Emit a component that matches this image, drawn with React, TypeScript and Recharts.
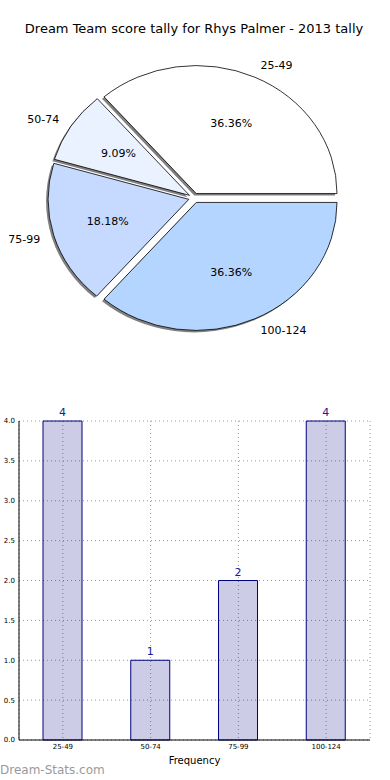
import { PieChart, Pie, Cell, BarChart, Bar, XAxis, YAxis, CartesianGrid, LabelList } from 'recharts';

const ranges = ['25-49', '50-74', '75-99', '100-124'];
const counts = [4, 1, 2, 4];
const sliceColors = ['#ffffff', '#eaf1ff', '#c6d9ff', '#b3d5ff'];
const yTicks = [0, 0.5, 1, 1.5, 2, 2.5, 3, 3.5, 4];

const pieData = ranges.map((r, i) => ({ name: r, value: counts[i] }));
const barData = ranges.map((r, i) => ({ range: r, count: counts[i] }));

const FONT = '"DejaVu Sans", sans-serif';
const RAD = Math.PI / 180;
const STRETCH = 1.1; // source pie is an ellipse, wider than tall
const EXPLODE = 0.038;

function explodeOffset(r: number, mid: number) {
  return [EXPLODE * r * STRETCH * Math.cos(mid * RAD), -EXPLODE * r * Math.sin(mid * RAD)];
}

function wedgePath(cx: number, cy: number, r: number, a0: number, a1: number) {
  const rx = r * STRETCH;
  const x0 = cx + rx * Math.cos(a0 * RAD);
  const y0 = cy - r * Math.sin(a0 * RAD);
  const x1 = cx + rx * Math.cos(a1 * RAD);
  const y1 = cy - r * Math.sin(a1 * RAD);
  const large = Math.abs(a1 - a0) > 180 ? 1 : 0;
  return `M${cx},${cy}L${x0},${y0}A${rx},${r} 0 ${large} 0 ${x1},${y1}Z`;
}

function Wedge(props: any) {
  const { cx, cy, outerRadius, startAngle, endAngle, fill } = props;
  const mid = (startAngle + endAngle) / 2;
  const [dx, dy] = explodeOffset(outerRadius, mid);
  return (
    <path
      d={wedgePath(cx + dx, cy + dy, outerRadius, startAngle, endAngle)}
      fill={fill}
      stroke="#000"
      strokeWidth={0.8}
      strokeLinejoin="miter"
    />
  );
}

function ShadowWedge(props: any) {
  const { cx, cy, outerRadius, startAngle, endAngle } = props;
  const mid = (startAngle + endAngle) / 2;
  const [dx, dy] = explodeOffset(outerRadius, mid);
  return (
    <path
      d={wedgePath(cx + dx - 2, cy + dy + 2, outerRadius, startAngle, endAngle)}
      fill="#808080"
      stroke="none"
    />
  );
}

function renderPieLabel(props: any) {
  const { cx, cy, outerRadius, percent, name, midAngle } = props;
  const [dx, dy] = explodeOffset(outerRadius, midAngle);
  const c = Math.cos(midAngle * RAD);
  const s = Math.sin(midAngle * RAD);
  const ox = cx + dx;
  const oy = cy + dy;
  const rx = outerRadius * STRETCH;
  return (
    <g>
      <text
        x={ox + 1.1 * rx * c}
        y={oy - 1.1 * outerRadius * s}
        textAnchor={c >= 0 ? 'start' : 'end'}
        dominantBaseline="central"
        fontSize={11}
        fontFamily={FONT}
        fill="#000"
      >
        {name}
      </text>
      <text
        x={ox + 0.6 * rx * c}
        y={oy - 0.6 * outerRadius * s}
        textAnchor="middle"
        dominantBaseline="central"
        fontSize={11}
        fontFamily={FONT}
        fill="#000"
      >
        {`${(percent * 100).toFixed(2)}%`}
      </text>
    </g>
  );
}

export default function App() {
  return (
    <div style={{ position: 'relative', width: 390, height: 780, background: '#fff', fontFamily: FONT }}>
      <style>{'body{margin:0}'}</style>
      <div style={{ position: 'absolute', top: 21, left: 0, width: 388, textAlign: 'center', fontSize: 13, color: '#000' }}>
        Dream Team score tally for Rhys Palmer - 2013 tally
      </div>

      <div style={{ position: 'absolute', top: 0, left: 0 }}>
        <PieChart width={390} height={380} margin={{ top: 0, right: 0, bottom: 0, left: 0 }}>
          <Pie
            data={pieData}
            dataKey="value"
            nameKey="name"
            cx={194}
            cy={198}
            outerRadius={128}
            startAngle={0}
            endAngle={360}
            shape={ShadowWedge}
            label={false}
            labelLine={false}
            isAnimationActive={false}
          />
          <Pie
            data={pieData}
            dataKey="value"
            nameKey="name"
            cx={194}
            cy={198}
            outerRadius={128}
            startAngle={0}
            endAngle={360}
            shape={Wedge}
            label={renderPieLabel}
            labelLine={false}
            isAnimationActive={false}
          >
            {pieData.map((d, i) => (
              <Cell key={d.name} fill={sliceColors[i]} />
            ))}
          </Pie>
        </PieChart>
      </div>

      <div style={{ position: 'absolute', top: 390, left: 0 }}>
        <BarChart width={390} height={390} data={barData} margin={{ top: 31, right: 20, bottom: 10, left: 0 }}>
          <CartesianGrid stroke="#999999" strokeDasharray="1 3" />
          <XAxis
            dataKey="range"
            tick={{ fontSize: 7, fill: '#000', fontFamily: FONT }}
            tickLine={false}
            tickSize={0}
            tickMargin={4}
            axisLine={{ stroke: '#000' }}
            height={30}
            label={{ value: 'Frequency', position: 'insideBottom', offset: 6, fontSize: 10, fill: '#000', fontFamily: FONT }}
          />
          <XAxis xAxisId="top" dataKey="range" orientation="top" tick={false} tickLine={false} axisLine={{ stroke: '#000' }} height={0} />
          <YAxis
            domain={[0, 4]}
            ticks={yTicks}
            tickFormatter={(v: number) => v.toFixed(1)}
            tick={{ fontSize: 7, fill: '#000', fontFamily: FONT }}
            tickLine={false}
            tickSize={2}
            tickMargin={2}
            axisLine={{ stroke: '#000' }}
            width={19}
          />
          <YAxis yAxisId="right" orientation="right" domain={[0, 4]} tick={false} tickLine={false} axisLine={{ stroke: '#000' }} width={0} />
          <Bar dataKey="count" fill="#000080" fillOpacity={0.2} stroke="#000080" strokeWidth={1} barSize={39} isAnimationActive={false}>
            <LabelList dataKey="count" position="top" offset={5} fill="#1a1a9a" fontSize={11} fontFamily={FONT} />
          </Bar>
        </BarChart>
      </div>

      <div style={{ position: 'absolute', top: 763, left: 0, fontSize: 12, color: '#9a9a9a' }}>
        Dream-Stats.com
      </div>
    </div>
  );
}
